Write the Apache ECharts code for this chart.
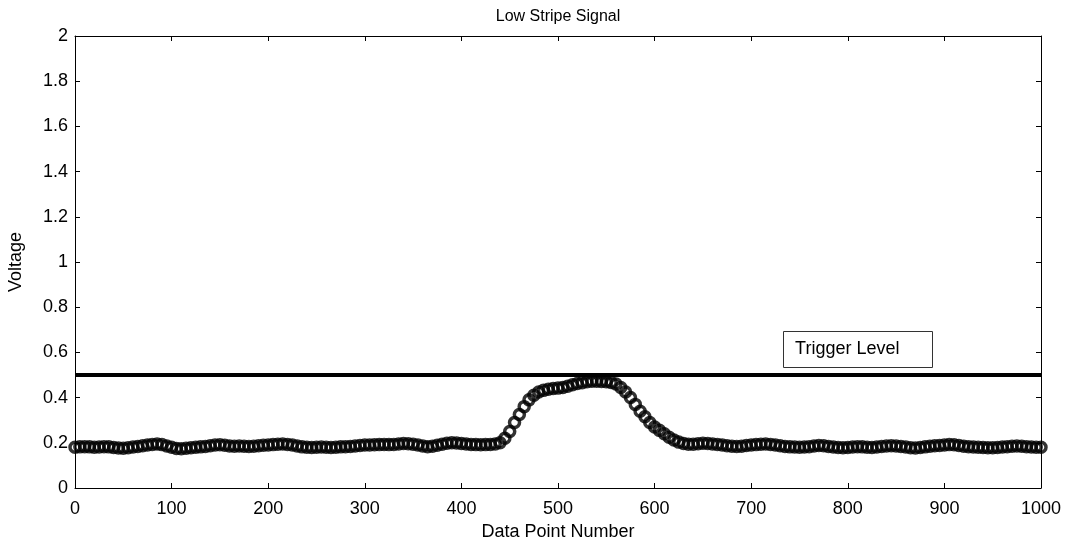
<!DOCTYPE html>
<html>
<head>
<meta charset="utf-8">
<title>Low Stripe Signal</title>
<script src="https://cdn.jsdelivr.net/npm/echarts@6/dist/echarts.min.js"></script>
<style>
    html, body { margin: 0; padding: 0; background: #fff; }
    #chart { width: 1065px; height: 542px; }
</style>
</head>
<body>
<div id="chart"></div>
<script>
    // sampled every 5 data points (0, 5, ... 1000)
    var sampleStep = 5;
    var voltage = [
        // 0 - 100
        0.18, 0.182, 0.183, 0.182, 0.18, 0.181, 0.183, 0.182, 0.179, 0.177, 0.176,
        0.178, 0.181, 0.184, 0.187, 0.19, 0.193, 0.195, 0.192, 0.186, 0.18,
        // 105 - 200
        0.175, 0.174, 0.176, 0.178, 0.18, 0.182, 0.184, 0.187, 0.19, 0.191,
        0.189, 0.186, 0.185, 0.186, 0.185, 0.184, 0.185, 0.187, 0.189, 0.19,
        // 205 - 300
        0.192, 0.194, 0.195, 0.193, 0.19, 0.186, 0.182, 0.18, 0.179, 0.18,
        0.181, 0.18, 0.179, 0.18, 0.182, 0.183, 0.184, 0.186, 0.188, 0.19,
        // 305 - 400
        0.19, 0.191, 0.192, 0.193, 0.192, 0.193, 0.195, 0.197, 0.196, 0.194,
        0.19, 0.186, 0.183, 0.185, 0.189, 0.194, 0.198, 0.2, 0.199, 0.197,
        // 405 - 500
        0.195, 0.193, 0.192, 0.191, 0.192, 0.193, 0.195, 0.2, 0.22, 0.25,
        0.29, 0.325, 0.36, 0.39, 0.41, 0.425, 0.432, 0.437, 0.44, 0.442,
        // 505 - 600
        0.445, 0.45, 0.457, 0.462, 0.466, 0.47, 0.472, 0.472, 0.471, 0.47,
        0.467, 0.46, 0.445, 0.425, 0.4, 0.37, 0.34, 0.315, 0.29, 0.27,
        // 605 - 700
        0.255, 0.24, 0.225, 0.212, 0.203, 0.197, 0.194, 0.194, 0.196, 0.198,
        0.197, 0.195, 0.193, 0.19, 0.187, 0.185, 0.184, 0.185, 0.188, 0.19,
        // 705 - 800
        0.192, 0.194, 0.195, 0.193, 0.19, 0.187, 0.184, 0.182, 0.181, 0.18,
        0.181, 0.183, 0.186, 0.188, 0.187, 0.184, 0.181, 0.179, 0.178, 0.179,
        // 805 - 900
        0.181, 0.183, 0.182, 0.18, 0.179, 0.181, 0.184, 0.186, 0.187, 0.186,
        0.184, 0.181, 0.178, 0.177, 0.179, 0.182, 0.185, 0.187, 0.188, 0.19,
        // 905 - 1000
        0.192, 0.191, 0.188, 0.185, 0.183, 0.181, 0.18, 0.179, 0.178, 0.178,
        0.179, 0.181, 0.183, 0.185, 0.186, 0.185, 0.183, 0.181, 0.18, 0.18
    ];
    var triggerLevel = 0.5;
    var triggerRange = [0, 1000];
    var triggerLabel = 'Trigger Level';
    // label box corners in data units
    var labelBox = { x0: 733, x1: 887, y0: 0.695, y1: 0.535 };

    var fontFamily = '"Liberation Sans", Arial, sans-serif';
    var fontSize = 18;

    function getSignalData() {
        return voltage.map(function (v, i) {
            return [i * sampleStep, v];
        });
    }

    function plainNumber(value) {
        return String(Math.round(value * 100) / 100);
    }

    function boxAxis(pos, extra) {
        var axis = {
            type: 'value',
            position: pos,
            axisLine: { show: true, onZero: false, lineStyle: { color: '#000', width: 1 } },
            axisTick: { show: true, inside: true, length: 5, lineStyle: { color: '#000' } },
            splitLine: { show: false },
            axisLabel: { show: false }
        };
        return Object.assign(axis, extra || {});
    }

    var chart = echarts.init(document.getElementById('chart'));

    var option = {
        animation: false,
        backgroundColor: '#fff',
        title: {
            text: 'Low Stripe Signal',
            left: 553,
            top: 4,
            textAlign: 'center',
            textStyle: { color: '#000', fontSize: 16, fontWeight: 'normal', fontFamily: fontFamily }
        },
        grid: { left: 75, right: 24, top: 36, bottom: 54, containLabel: false, outerBoundsMode: 'none' },
        xAxis: [
            boxAxis('bottom', {
                min: 0, max: 1000, interval: 100,
                name: 'Data Point Number',
                nameLocation: 'middle',
                nameGap: 35,
                nameTextStyle: { color: '#000', fontSize: fontSize, fontFamily: fontFamily },
                axisLabel: { show: true, color: '#000', fontSize: fontSize, margin: 12, fontFamily: fontFamily, formatter: plainNumber }
            }),
            boxAxis('top', { min: 0, max: 1000, interval: 100 })
        ],
        yAxis: [
            boxAxis('left', {
                min: 0, max: 2, interval: 0.2,
                name: 'Voltage',
                nameLocation: 'middle',
                nameGap: 50,
                nameTextStyle: { color: '#000', fontSize: fontSize, fontFamily: fontFamily },
                axisLabel: { show: true, color: '#000', fontSize: fontSize, margin: 7, fontFamily: fontFamily, formatter: plainNumber }
            }),
            boxAxis('right', { min: 0, max: 2, interval: 0.2 })
        ],
        series: [
            {
                name: 'Signal',
                type: 'scatter',
                symbol: 'circle',
                symbolSize: 10,
                data: getSignalData(),
                itemStyle: { color: 'rgba(0,0,0,0)', borderColor: '#000', borderWidth: 3.5 },
                z: 2
            },
            {
                name: 'Trigger',
                type: 'line',
                data: [[triggerRange[0], triggerLevel], [triggerRange[1], triggerLevel]],
                symbol: 'none',
                lineStyle: { color: '#000', width: 4 },
                z: 3
            }
        ]
    };
    chart.setOption(option);

    // text box annotation, placed from data units
    var p0 = chart.convertToPixel({ gridIndex: 0 }, [labelBox.x0, labelBox.y0]);
    var p1 = chart.convertToPixel({ gridIndex: 0 }, [labelBox.x1, labelBox.y1]);
    chart.setOption({
        graphic: [
            {
                type: 'rect',
                shape: { x: Math.round(p0[0]) + 0.5, y: Math.round(p0[1]) + 0.5, width: Math.round(p1[0] - p0[0]), height: Math.round(p1[1] - p0[1]) },
                style: { fill: '#fff', stroke: '#333', lineWidth: 1 },
                z: 10
            },
            {
                type: 'text',
                x: p0[0] + 12,
                y: (p0[1] + p1[1]) / 2,
                style: {
                    text: triggerLabel,
                    fill: '#000',
                    font: fontSize + 'px ' + fontFamily,
                    verticalAlign: 'middle'
                },
                z: 11
            }
        ]
    });
</script>
</body>
</html>
